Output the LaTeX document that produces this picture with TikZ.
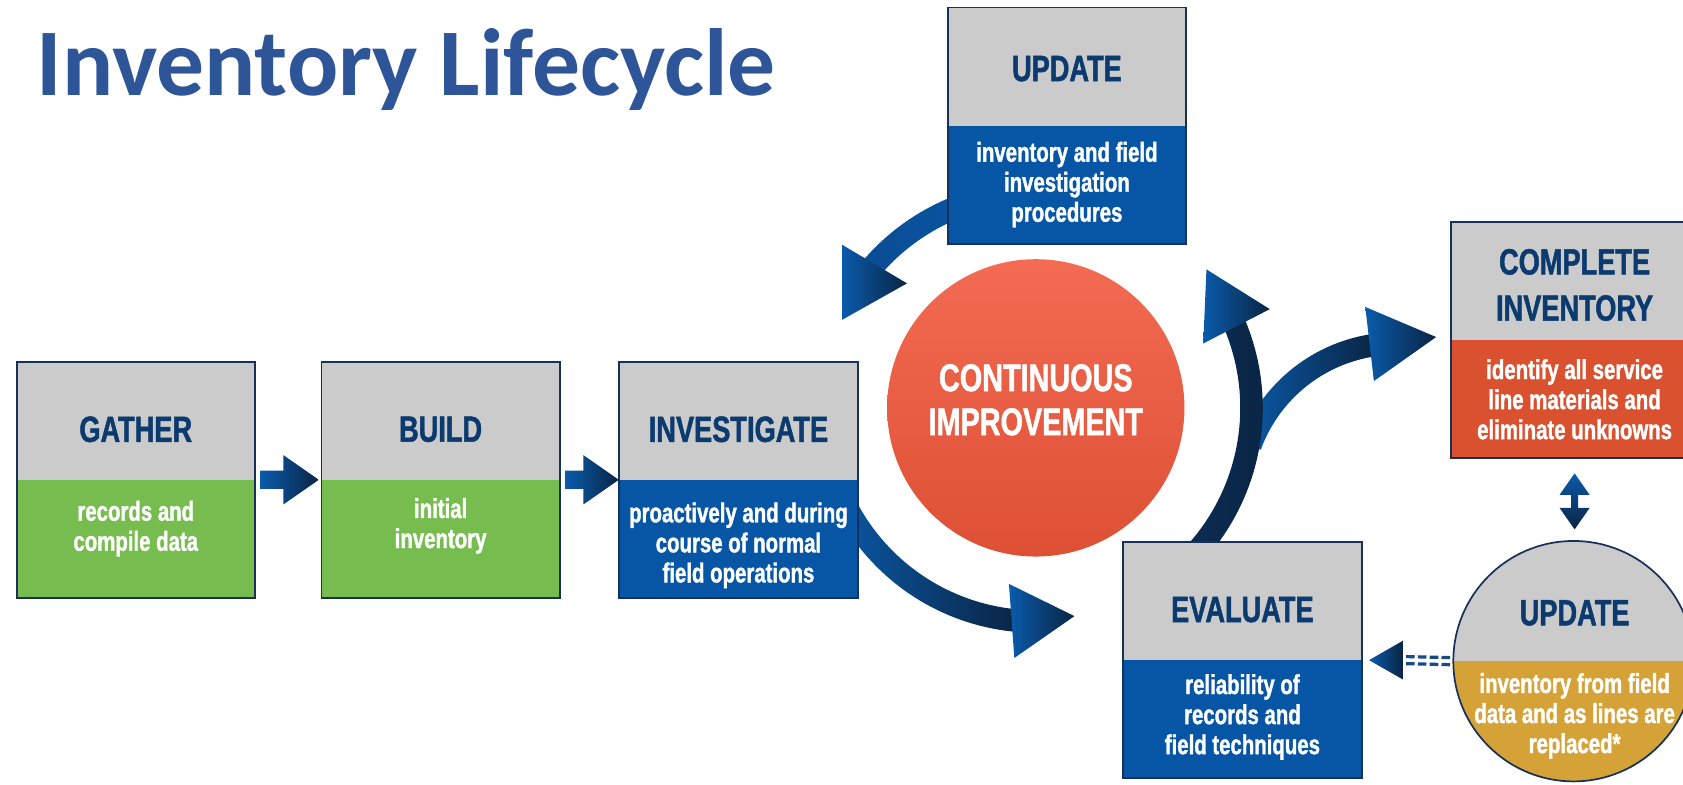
\documentclass[tikz,border=0pt]{standalone}
\usepackage{fontspec}
\newfontfamily\condf[FakeStretch=0.745, BoldFeatures={FakeBold=1.3}]{Liberation Sans}
\newfontfamily\titlef{Carlito}
\usetikzlibrary{calc}
\definecolor{boxgray}{HTML}{CBCBCB}
\definecolor{boxgreen}{HTML}{76BC4E}
\definecolor{boxblue}{HTML}{0656A5}
\definecolor{boxred}{HTML}{D9512F}
\definecolor{boxgold}{HTML}{D4A237}
\definecolor{hdrnavy}{HTML}{0B3A6E}
\definecolor{edgenavy}{HTML}{17315A}
\definecolor{arrblue}{HTML}{0A5BAB}
\definecolor{arrnavy}{HTML}{0A2443}
\definecolor{shAa}{HTML}{0A4C93}
\definecolor{shAb}{HTML}{0A55A3}
\definecolor{shCa}{HTML}{0B2D55}
\definecolor{shCb}{HTML}{0A2544}
\definecolor{dashcol}{HTML}{194A86}
\definecolor{titleblue}{HTML}{2E5597}
\definecolor{circtop}{HTML}{F36B53}
\definecolor{circbot}{HTML}{DD5034}
\tikzset{
  frame/.style={draw=edgenavy, line width=1.8pt, minimum height=220pt, inner sep=0pt, outer sep=0pt},
  part/.style={minimum height=110pt, inner sep=0pt, outer sep=0pt, anchor=north},
  hdr/.style={font=\condf\bfseries\fontsize{34}{43}\selectfont, text=hdrnavy, align=center, inner sep=0pt},
  body/.style={font=\condf\bfseries\fontsize{25.5}{28}\selectfont, text=white, align=center, inner sep=0pt},
  headshade/.style={left color=arrblue, right color=arrnavy},
  dashrow/.style={dashcol, line width=3pt, dash pattern=on 8pt off 3pt},
}
% name, x centre, y top, colour, width
\newcommand\stagebox[5]{%
  \node[part, fill=boxgray, minimum width=#5] (#1G) at (#2,#3) {};
  \node[part, fill=#4, minimum width=#5] (#1C) at (#1G.south) {};
  \node[frame, minimum width=#5] (#1) at (#1G.south) {};}
% cx, cy, r, width, from, to, left colour, right colour
\newcommand\arcshaft[8]{%
  \shade[left color=#7, right color=#8]
    plot[domain=#5:#6, samples=40] ({#1+(#3+#4/2)*cos(\x)},{#2+(#3+#4/2)*sin(\x)})
    -- plot[domain=#6:#5, samples=40] ({#1+(#3-#4/2)*cos(\x)},{#2+(#3-#4/2)*sin(\x)})
    -- cycle;}
\newcommand\arrhead[3]{\shade[headshade] (#1) -- (#2) -- (#3) -- cycle;}
% horizontal block arrow from coordinate #1 to tip coordinate #2
\newcommand\hblockarrow[2]{%
  \shade[headshade] ($(#1)+(0,-8.5)$) -- ($(#2)+(-33,-8.5)$) -- ($(#2)+(-33,-23)$) -- (#2)
    -- ($(#2)+(-33,23)$) -- ($(#2)+(-33,8.5)$) -- ($(#1)+(0,8.5)$) -- cycle;}
\begin{document}
\begin{tikzpicture}[x=1pt, y=-1pt]
\useasboundingbox (0,0) rectangle (1568,731);

% ---- curved arrows (behind boxes) ----
\arcshaft{965}{380}{201}{21}{255}{219.5}{shAa}{shAb}
\arcshaft{965}{380}{199}{21}{160}{94.5}{arrblue}{arrnavy}
\arcshaft{1301}{465}{145}{21}{200}{262}{arrblue}{arrnavy}
\arcshaft{965}{380}{201}{21}{45}{-24.5}{shCa}{shCb}
\arrhead{784.5,228}{845,264}{784.5,298}
\arrhead{940,544}{945,613}{1001,574}
\arrhead{1121,320}{1183,288}{1124,251}
\arrhead{1272,286}{1280,355}{1338,314}

% ---- title ----
\node[font=\titlef\bfseries\fontsize{89}{100}\selectfont, text=titleblue, anchor=base west, inner sep=0pt] (title) at (34,89) {Inventory Lifecycle};

% ---- stage boxes ----
\stagebox{gather}{126.5}{337}{boxgreen}{222pt}
\stagebox{build}{410.5}{337}{boxgreen}{222pt}
\stagebox{investigate}{688}{337}{boxblue}{222pt}
\stagebox{updA}{994}{7}{boxblue}{222pt}
\stagebox{evaluate}{1157.5}{505}{boxblue}{222pt}
\stagebox{complete}{1477}{207}{boxred}{250pt}

\node[hdr] (gatherT) at (126.5,400) {GATHER};
\node[body] (gatherD) at (126.5,492.5) {records and\\compile data};
\node[hdr] (buildT) at (410.5,400) {BUILD};
\node[body] (buildD) at (410.5,490) {initial\\inventory};
\node[hdr] (investigateT) at (688,400) {INVESTIGATE};
\node[body] (investigateD) at (688,508) {proactively and during\\course of normal\\field operations};
\node[hdr] (updAT) at (994,64) {UPDATE};
\node[body] (updAD) at (994,172) {inventory and field\\investigation\\procedures};
\node[hdr] (evaluateT) at (1157.5,568) {EVALUATE};
\node[body] (evaluateD) at (1157.5,668) {reliability of\\records and\\field techniques};
\node[hdr] (completeT) at (1467,265.5) {COMPLETE\\INVENTORY};
\node[body] (completeD) at (1467,372) {identify all service\\line materials and\\eliminate unknowns};

% ---- continuous improvement circle ----
\node[circle, minimum size=277pt, inner sep=0pt, top color=circtop, bottom color=circbot] (ci) at (965,380) {};
\node[font=\condf\bfseries\fontsize{36}{41}\selectfont, text=white, align=center, inner sep=0pt] (ciT) at (965,372.5) {CONTINUOUS\\IMPROVEMENT};

% ---- update circle ----
\begin{scope}
  \clip (1466,616) circle[radius=112];
  \fill[boxgray] (1340,490) rectangle (1600,616);
  \fill[boxgold] (1340,616) rectangle (1600,740);
\end{scope}
\node[circle, minimum size=224pt, inner sep=0pt, draw=edgenavy, line width=1.6pt] (upd2) at (1466,616) {};
\node[hdr] (upd2T) at (1467,571) {UPDATE};
\node[body] (upd2D) at (1467,667) {inventory from field\\data and as lines are\\replaced*};

% ---- straight arrows ----
\coordinate (a1s) at ([xshift=5pt]gather.east);
\coordinate (a1e) at ([xshift=-2.5pt]build.west);
\coordinate (a2s) at ([xshift=5pt]build.east);
\coordinate (a2e) at ([xshift=-0.5pt]investigate.west);
\hblockarrow{a1s}{a1e}
\hblockarrow{a2s}{a2e}

% double arrow complete <-> update circle
\coordinate (dtop) at ($(complete.south)+(-10,14)$);
\coordinate (dbot) at ($(upd2.north)+(1,-10)$);
\shade[top color=arrblue, bottom color=arrnavy]
  (dtop) -- ($(dtop)+(14,20)$) -- ($(dtop)+(3.2,20)$) -- ($(dbot)+(3.2,-20)$) -- ($(dbot)+(14,-20)$)
  -- (dbot) -- ($(dbot)+(-14,-20)$) -- ($(dbot)+(-3.2,-20)$) -- ($(dtop)+(-3.2,20)$) -- ($(dtop)+(-14,20)$) -- cycle;

% dashed arrow update circle -> evaluate
\coordinate (dA) at ([xshift=-1pt]upd2.west);
\coordinate (dB) at ([xshift=7pt]evaluate.east);
\draw[dashrow] ($(dB)+(34.5,-3.3)$) -- ($(dA)+(0,-3.3)$);
\draw[dashrow] ($(dB)+(34.5,3.3)$) -- ($(dA)+(0,3.3)$);
\shade[headshade] (dB) -- ($(dB)+(31.5,-18)$) -- ($(dB)+(31.5,18)$) -- cycle;
\end{tikzpicture}
\end{document}
